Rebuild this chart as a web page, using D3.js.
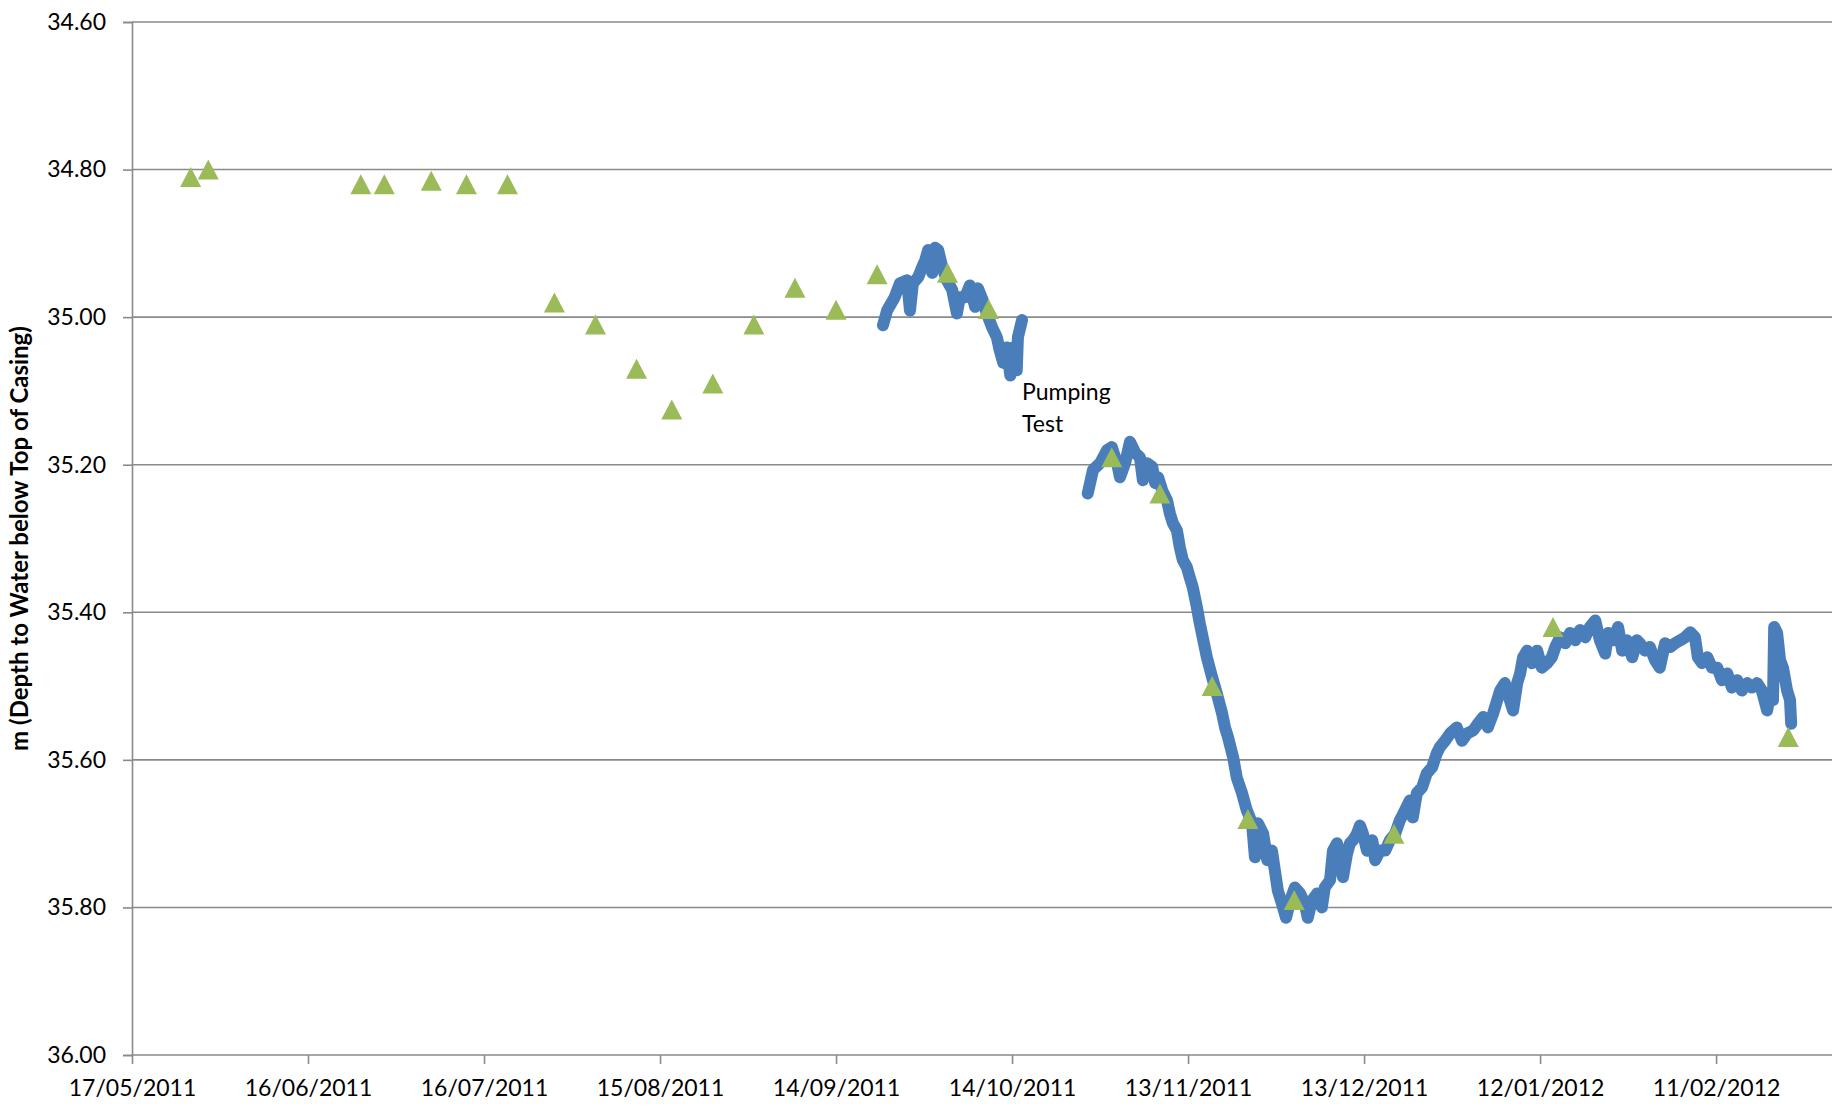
<!DOCTYPE html>
<html>
<head>
<meta charset="utf-8">
<script src="https://cdn.jsdelivr.net/npm/d3@7"></script>
<style>
  html, body { margin: 0; padding: 0; background: #ffffff; }
  svg { display: block; }
  text { font-family: Lato, "Open Sans", sans-serif; fill: #000; }
</style>
</head>
<body>
<svg id="chart" width="1832" height="1113"></svg>
<script>
// Groundwater level record — depth to water below top of casing (m)
// Times are given as days after 17/05/2011.
const startDate = "17/05/2011";
const axisDays = 300;

const xTickLabels = ["17/05/2011", "16/06/2011", "16/07/2011", "15/08/2011", "14/09/2011",
                     "14/10/2011", "13/11/2011", "13/12/2011", "12/01/2012", "11/02/2012"];
const yTicks = [34.6, 34.8, 35.0, 35.2, 35.4, 35.6, 35.8, 36.0];

// Manual dip readings
const manualDays   = [10, 13, 39, 43, 51, 57, 64, 72, 79, 86, 92, 99, 106, 113, 120,
                      127, 139, 146, 167, 175.2, 184.1, 190.2, 198.1, 215.1, 242.2, 282.3];
const manualLevels = [34.81, 34.80, 34.82, 34.82, 34.815, 34.82, 34.82, 34.98, 35.01, 35.07, 35.125, 35.09, 35.01, 34.96, 34.99,
                      34.942, 34.94, 34.989, 35.19, 35.239, 35.50, 35.68, 35.79, 35.70, 35.42, 35.569];

// Logger record before the pumping test
const loggerBefore = [
  [128.0, 35.011], [128.7, 34.991], [130.0, 34.973], [130.9, 34.954], [132.1, 34.950],
  [132.6, 34.991], [133.1, 34.954], [134.0, 34.946], [134.7, 34.932], [135.2, 34.923],
  [135.7, 34.909], [136.4, 34.940], [136.9, 34.906], [137.4, 34.909], [138.1, 34.932],
  [138.9, 34.950], [139.8, 34.963], [140.6, 34.995], [141.1, 34.973], [142.0, 34.973],
  [142.8, 34.957], [143.7, 34.986], [144.2, 34.961], [145.0, 34.977], [145.7, 34.995],
  [146.6, 35.014], [147.4, 35.027], [147.9, 35.045], [148.5, 35.062], [149.1, 35.041],
  [149.7, 35.079], [150.2, 35.041], [150.8, 35.072], [151.0, 35.027], [151.7, 35.004]
];

// Logger record after the pumping test
const loggerAfter = [
  [162.9, 35.239], [163.8, 35.207], [165.0, 35.198], [166.2, 35.180], [167.0, 35.176],
  [167.9, 35.198], [168.4, 35.217], [169.3, 35.197], [170.1, 35.169], [171.0, 35.184],
  [171.8, 35.190], [172.3, 35.221], [173.0, 35.198], [173.9, 35.203], [174.4, 35.225],
  [174.9, 35.217], [175.6, 35.235], [176.4, 35.248], [176.9, 35.266], [177.4, 35.279],
  [178.1, 35.289], [178.6, 35.312], [179.1, 35.329], [179.8, 35.339], [180.3, 35.353],
  [180.8, 35.366], [181.5, 35.393], [182.0, 35.415], [182.6, 35.438], [183.2, 35.461],
  [184.1, 35.488], [184.9, 35.510], [185.8, 35.537], [186.3, 35.556], [186.8, 35.569],
  [187.7, 35.597], [188.3, 35.624], [189.2, 35.645], [190.0, 35.668], [190.9, 35.686],
  [191.4, 35.732], [191.9, 35.686], [192.8, 35.700], [193.5, 35.736], [194.3, 35.723],
  [194.8, 35.750], [195.3, 35.777], [196.0, 35.795], [196.7, 35.814], [197.4, 35.791],
  [198.2, 35.773], [199.1, 35.781], [199.9, 35.795], [200.4, 35.814], [201.1, 35.791],
  [202.0, 35.781], [202.8, 35.800], [203.3, 35.773], [204.2, 35.763], [204.7, 35.723],
  [205.4, 35.713], [205.9, 35.736], [206.4, 35.759], [207.1, 35.727], [207.6, 35.713],
  [208.1, 35.709], [208.8, 35.700], [209.3, 35.689], [209.8, 35.700], [210.5, 35.723],
  [211.4, 35.709], [211.9, 35.736], [212.7, 35.723], [213.6, 35.723], [214.4, 35.709],
  [215.3, 35.700], [216.1, 35.682], [217.0, 35.668], [217.8, 35.655], [218.3, 35.678],
  [219.0, 35.645], [219.9, 35.637], [220.7, 35.618], [221.6, 35.610], [222.4, 35.591],
  [222.9, 35.583], [223.8, 35.574], [224.7, 35.564], [225.8, 35.556], [226.7, 35.574],
  [227.6, 35.564], [228.6, 35.560], [229.4, 35.551], [230.3, 35.542], [231.1, 35.556],
  [232.0, 35.537], [232.7, 35.519], [233.2, 35.506], [234.0, 35.496], [234.5, 35.510],
  [235.4, 35.533], [236.1, 35.496], [236.6, 35.483], [237.1, 35.461], [237.8, 35.452],
  [238.6, 35.469], [239.5, 35.452], [240.3, 35.475], [241.2, 35.469], [242.0, 35.461],
  [242.6, 35.447], [243.4, 35.434], [244.3, 35.442], [245.1, 35.428], [246.0, 35.438],
  [246.8, 35.424], [247.7, 35.434], [248.5, 35.420], [249.4, 35.411], [250.2, 35.438],
  [251.1, 35.456], [251.6, 35.428], [252.4, 35.438], [253.3, 35.420], [254.0, 35.452],
  [254.8, 35.438], [255.7, 35.461], [256.5, 35.438], [257.0, 35.442], [257.9, 35.452],
  [258.7, 35.447], [259.6, 35.465], [260.4, 35.475], [261.3, 35.442], [262.2, 35.447],
  [263.0, 35.442], [263.9, 35.438], [264.7, 35.434], [265.6, 35.427], [266.4, 35.434],
  [266.9, 35.461], [267.6, 35.469], [268.5, 35.461], [269.3, 35.475], [270.2, 35.475],
  [271.0, 35.492], [271.9, 35.483], [272.7, 35.502], [273.6, 35.492], [274.4, 35.506],
  [275.3, 35.496], [276.1, 35.502], [277.0, 35.496], [277.8, 35.506], [278.7, 35.533],
  [279.2, 35.510], [279.7, 35.519], [279.9, 35.420], [280.4, 35.428], [280.9, 35.465],
  [281.4, 35.475], [282.1, 35.506], [282.6, 35.519], [282.8, 35.551]
];

const annotationLines = ["Pumping", "Test"];
const yTitle = "m (Depth to Water below Top of Casing)";

// ---- layout ----
const W = 1832, H = 1113;
const margin = { left: 132, top: 22, bottom: 58 };
const plotBottom = H - margin.bottom;   // 1055
const dayPx = 5.867;

const parse = d3.utcParse("%d/%m/%Y");
const fmt = d3.utcFormat("%d/%m/%Y");
const t0 = parse(startDate);
const dayToDate = d => new Date(t0.getTime() + d * 864e5);

const x = d3.scaleUtc()
  .domain([t0, dayToDate(axisDays)])
  .range([margin.left, margin.left + axisDays * dayPx]);
const y = d3.scaleLinear()
  .domain([34.6, 36.0])
  .range([margin.top, plotBottom]);

const svg = d3.select("#chart");
svg.append("rect").attr("width", W).attr("height", H).attr("fill", "#fff");

const gridColor = "#8a8a8a";

// horizontal gridlines
svg.append("g")
  .selectAll("line")
  .data(yTicks.slice(0, -1))
  .join("line")
  .attr("x1", margin.left).attr("x2", W)
  .attr("y1", d => y(d)).attr("y2", d => y(d))
  .attr("stroke", gridColor).attr("stroke-width", 1.6);

// y axis
const yAxis = d3.axisLeft(y).tickValues(yTicks).tickFormat(d3.format(".2f")).tickSize(9).tickPadding(17);
const gy = svg.append("g").attr("transform", `translate(${margin.left},0)`).call(yAxis);
gy.select(".domain").attr("stroke", gridColor).attr("stroke-width", 1.6);
gy.selectAll(".tick line").attr("stroke", gridColor).attr("stroke-width", 1.6);
gy.selectAll(".tick text").attr("font-size", 23).attr("font-family", "Lato").attr("fill", "#000");

// x axis
const xAxis = d3.axisBottom(x).tickValues(xTickLabels.map(parse)).tickFormat(fmt).tickSize(9).tickPadding(16);
const gx = svg.append("g").attr("transform", `translate(0,${plotBottom})`).call(xAxis);
gx.select(".domain").attr("stroke", gridColor).attr("stroke-width", 1.6).attr("d", `M${margin.left},0H${W}`);
gx.selectAll(".tick line").attr("stroke", gridColor).attr("stroke-width", 1.6);
gx.selectAll(".tick text").attr("font-size", 23).attr("font-family", "Lato").attr("fill", "#000");

// y axis title
svg.append("text")
  .attr("transform", `translate(28,${(margin.top + plotBottom) / 2}) rotate(-90)`)
  .attr("text-anchor", "middle")
  .attr("font-size", 24)
  .attr("font-weight", "bold")
  .text(yTitle);

// logger series
const line = d3.line()
  .x(d => x(dayToDate(d[0])))
  .y(d => y(d[1]));
svg.append("g")
  .selectAll("path")
  .data([loggerBefore, loggerAfter])
  .join("path")
  .attr("d", line)
  .attr("fill", "none")
  .attr("stroke", "#4a7ebb")
  .attr("stroke-width", 12)
  .attr("stroke-linejoin", "round")
  .attr("stroke-linecap", "round");

// manual readings as triangles (base 21, height 20, centred on the reading)
const triPath = "M0,-10L10.5,10L-10.5,10Z";
svg.append("g")
  .selectAll("path")
  .data(manualDays.map((d, i) => [d, manualLevels[i]]))
  .join("path")
  .attr("d", triPath)
  .attr("transform", d => `translate(${x(dayToDate(d[0]))},${y(d[1])})`)
  .attr("fill", "#9bbb59");

// annotation
const ann = svg.append("text")
  .attr("font-size", 23)
  .attr("font-family", "Lato");
ann.selectAll("tspan")
  .data(annotationLines)
  .join("tspan")
  .attr("x", 1022)
  .attr("y", (d, i) => 400 + i * 32)
  .text(d => d);
</script>
</body>
</html>
